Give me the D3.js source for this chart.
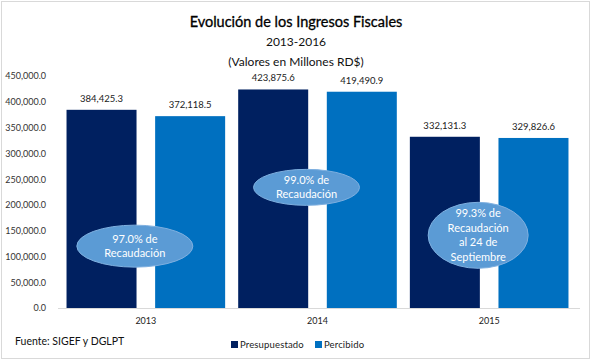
<!DOCTYPE html>
<html>
<head>
<meta charset="utf-8">
<script src="https://cdn.jsdelivr.net/npm/d3@7"></script>
<style>
  body { margin: 0; background: #fff; }
  svg text { font-family: Lato, "Open Sans", sans-serif; }
</style>
</head>
<body>
<div id="chart"></div>
<script>
const width = 592;
const height = 362;

const years = ["2013", "2014", "2015"];
const seriesNames = ["Presupuestado", "Percibido"];
const presupuestado = [384425.3, 423875.6, 332131.3];
const percibido = [372118.5, 419490.9, 329826.6];
const yTicks = [0, 50000, 100000, 150000, 200000, 250000, 300000, 350000, 400000, 450000];
const colors = ["#002060", "#0070C0"];

// callout bubbles: year, value at centre, lines of text
const calloutYears = ["2013", "2014", "2015"];
const calloutLevels = [120000, 234000, 141000];
const calloutText = [
    ["97.0% de", "Recaudación"],
    ["99.0% de", "Recaudación"],
    ["99.3% de", "Recaudación", "al 24 de", "Septiembre"]
];
const calloutSize = [[58, 21], [53, 18], [50, 33]];

const svg = d3.select("#chart").append("svg")
    .attr("width", width)
    .attr("height", height);

svg.append("rect")
    .attr("x", 1.5).attr("y", 1.5)
    .attr("width", width - 4).attr("height", height - 5)
    .attr("fill", "#fff")
    .attr("stroke", "#d9d9d9");

// titles
svg.append("text").attr("x", 296).attr("y", 27)
    .attr("text-anchor", "middle").attr("font-size", 14.5).attr("fill", "#000")
    .attr("stroke", "#000").attr("stroke-width", 0.3)
    .text("Evolución de los Ingresos Fiscales");
svg.append("text").attr("x", 296).attr("y", 46)
    .attr("text-anchor", "middle").attr("font-size", 12).attr("fill", "#111")
    .text("2013-2016");
svg.append("text").attr("x", 296).attr("y", 66)
    .attr("text-anchor", "middle").attr("font-size", 12).attr("fill", "#111")
    .text("(Valores en Millones RD$)");

const x0 = d3.scaleBand()
    .domain(years)
    .range([60, 575])
    .paddingInner(0.076)
    .paddingOuter(0.038);

const x1 = d3.scaleBand()
    .domain(seriesNames)
    .range([0, x0.bandwidth()])
    .paddingInner(0.21);

const y = d3.scaleLinear()
    .domain([0, 450000])
    .range([308, 76]);

const fmt = d3.format(",.1f");

// y axis labels
const yAxis = svg.append("g")
    .attr("transform", "translate(58,0)")
    .call(d3.axisLeft(y).tickValues(yTicks).tickFormat(fmt).tickSize(0).tickPadding(12));
yAxis.select(".domain").remove();
yAxis.selectAll("text").attr("font-size", 9).attr("fill", "#333")
    .style("font-family", "Lato, sans-serif");

// x axis
const xAxis = svg.append("g")
    .attr("transform", "translate(0,308.5)")
    .call(d3.axisBottom(x0).tickSize(0).tickPadding(9));
xAxis.select(".domain").attr("stroke", "#d9d9d9").attr("d", "M58,0H580");
xAxis.selectAll("text").attr("font-size", 9).attr("fill", "#222")
    .style("font-family", "Lato, sans-serif");

const rows = years.map((yr, i) => ({
    year: yr,
    values: [
        { key: seriesNames[0], value: presupuestado[i] },
        { key: seriesNames[1], value: percibido[i] }
    ]
}));

const groups = svg.append("g").selectAll("g")
    .data(rows)
    .join("g")
    .attr("transform", d => `translate(${x0(d.year)},0)`);

groups.selectAll("rect")
    .data(d => d.values)
    .join("rect")
    .attr("x", d => x1(d.key))
    .attr("y", d => y(d.value))
    .attr("width", x1.bandwidth())
    .attr("height", d => y(0) - y(d.value))
    .attr("fill", (d, i) => colors[i]);

groups.selectAll("text.lbl")
    .data(d => d.values)
    .join("text")
    .attr("class", "lbl")
    .attr("x", d => x1(d.key) + x1.bandwidth() / 2)
    .attr("y", d => y(d.value) - 8)
    .attr("text-anchor", "middle")
    .attr("font-size", 9.5)
    .attr("fill", "#222")
    .text(d => fmt(d.value));

// callouts
calloutYears.forEach((yr, i) => {
    const cx = x0(yr) + x0.bandwidth() / 2 - 11;
    const cy = y(calloutLevels[i]);
    const g = svg.append("g");
    g.append("ellipse")
        .attr("cx", cx).attr("cy", cy)
        .attr("rx", calloutSize[i][0]).attr("ry", calloutSize[i][1])
        .attr("fill", "#5B9BD5")
        .attr("stroke", "#7fb0e0")
        .attr("stroke-width", 1);
    const lines = calloutText[i];
    const lh = 14.5;
    lines.forEach((t, j) => {
        g.append("text")
            .attr("x", cx)
            .attr("y", cy + (j - (lines.length - 1) / 2) * lh)
            .attr("dy", "0.35em")
            .attr("text-anchor", "middle")
            .attr("font-size", 11)
            .attr("fill", "#fff")
            .text(t);
    });
});

// footer
svg.append("text").attr("x", 15).attr("y", 345)
    .attr("font-size", 10.5).attr("fill", "#111")
    .text("Fuente: SIGEF y DGLPT");

const legend = svg.append("g").selectAll("g")
    .data(seriesNames)
    .join("g")
    .attr("transform", (d, i) => `translate(${[231, 315][i]},341)`);
legend.append("rect")
    .attr("width", 7).attr("height", 7)
    .attr("fill", (d, i) => colors[i]);
legend.append("text")
    .attr("x", 9).attr("y", 3.5).attr("dy", "0.35em")
    .attr("font-size", 9.5).attr("fill", "#222")
    .attr("letter-spacing", 0.15)
    .text(d => d);
</script>
</body>
</html>
